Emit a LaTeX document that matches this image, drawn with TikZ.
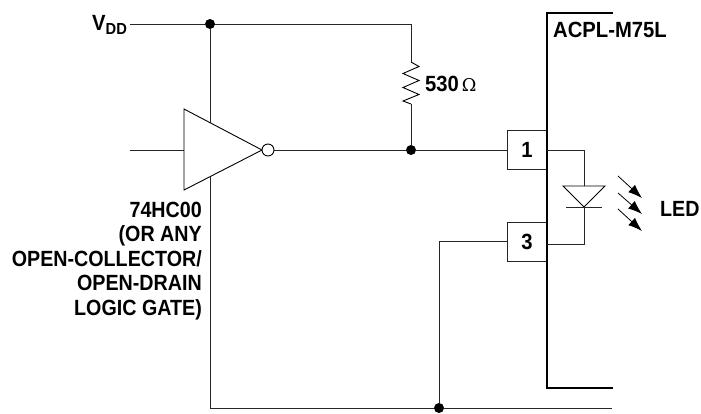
\documentclass[tikz,border=0pt]{standalone}
\usepackage{fontspec}
\setmainfont{Liberation Sans}[FakeStretch=0.92]
\newfontfamily\narrowfont{Liberation Sans}[FakeStretch=0.895]
\usetikzlibrary{arrows.meta}
\tikzset{
  wire/.style={line width=1pt,black!85},
  thin wire/.style={line width=.9pt,black},
  thick wire/.style={line width=2pt,black,line cap=rect},
  junction/.style={circle,fill=black,inner sep=0pt,minimum size=10pt},
  pin/.style={draw=black!85,line width=1pt,fill=white,minimum width=40pt,minimum height=39pt,inner sep=0pt,font=\fontsize{22pt}{24pt}\bfseries},
  lbl/.style={inner sep=0pt,font=\fontsize{22pt}{24pt}\bfseries},
  ray/.style={line width=.8pt,-{Latex[length=14pt,width=10pt]}}
}
\begin{document}
\begin{tikzpicture}[x=1pt,y=-1pt]
\useasboundingbox (0,0) rectangle (701,413);
% coordinates
\coordinate (vddl) at (130,24);
\coordinate (vddr) at (411,24);
\coordinate (rt) at (411,62);
\coordinate (rb) at (411,104);
\coordinate (inl) at (130,150);
\coordinate (gnd) at (210,408);
\coordinate (gndr) at (612,408);
\coordinate (icb) at (612,388);
\coordinate (ict) at (612,13);
\coordinate (icc1) at (547,13);
\coordinate (icc2) at (547,388);
\coordinate (da) at (584,186);
\coordinate (dk) at (584,207);
\coordinate (w1) at (547,150);
\coordinate (w3) at (547,244);
% nodes
\node[junction] (j1) at (210,24) {};
\node[junction] (j2) at (411,150) {};
\node[junction] (j3) at (439,408) {};
\node[pin] (p1) at (527,149.5) {1};
\node[pin] (p3) at (527,241.5) {3};
% wires
\draw[wire] (vddl) -- (j1) -- (vddr) -- (rt);
\draw[wire] (rb) -- (j2);
\draw[wire] (j1) -- (gnd) -- (j3) -- (gndr);
\draw[wire] (inl) -- (184,150);
\draw[wire] (274,150) -- (j2) -- (p1.west |- j2);
\draw[wire] (p3.west) -| (j3);
% inverter
\draw[thin wire,fill=white,line join=miter] (184,109) -- (262,150) -- (184,190) -- cycle;
\node[circle,draw=black,line width=.9pt,fill=white,minimum size=12pt,inner sep=0pt] (bub) at (268,150) {};
% resistor
\draw[thin wire,line join=miter] (rt) -- (419,66.5) -- (403,73.5) -- (419,80.5) -- (403,87.5) -- (419,94.5) -- (403,101) -- (rb);
% IC
\draw[thick wire] (ict) -- (icc1) -- (icc2) -- (icb);
% LED
\draw[wire] (w1) -| (da);
\draw[wire] (dk) |- (w3);
\draw[thin wire,fill=white,line join=miter] (563,186) -- (605,186) -- (dk) -- cycle;
\draw[wire] (566,207) -- (602,207);
\draw[ray] (618,176) -- (642,198);
\draw[ray] (618,193) -- (642,214);
\draw[ray] (618,209) -- (642,231);
% labels
\node[lbl,anchor=base west] (vdd) at (92,30) {V\raisebox{-4pt}{\fontsize{16pt}{18pt}\bfseries DD}};
\node[lbl,anchor=base west] (res) at (425,91) {530\hspace{3pt}\fontspec{DejaVu Serif}[Scale=.8]\mdseries Ω};
\node[lbl,anchor=base west] (ic) at (553,37) {ACPL-M75L};
\node[lbl,anchor=base west] (led) at (660,216) {\narrowfont LED};
\node[lbl,align=right,anchor=north east,font=\narrowfont\fontsize{22pt}{24.5pt}\bfseries] (gate) at (202,201.5) {74HC00\hspace{3pt}\\(OR ANY\hspace{2pt}\\OPEN-COLLECTOR/\\OPEN-DRAIN\hspace{5pt}\\LOGIC GATE)};
\end{tikzpicture}
\end{document}
